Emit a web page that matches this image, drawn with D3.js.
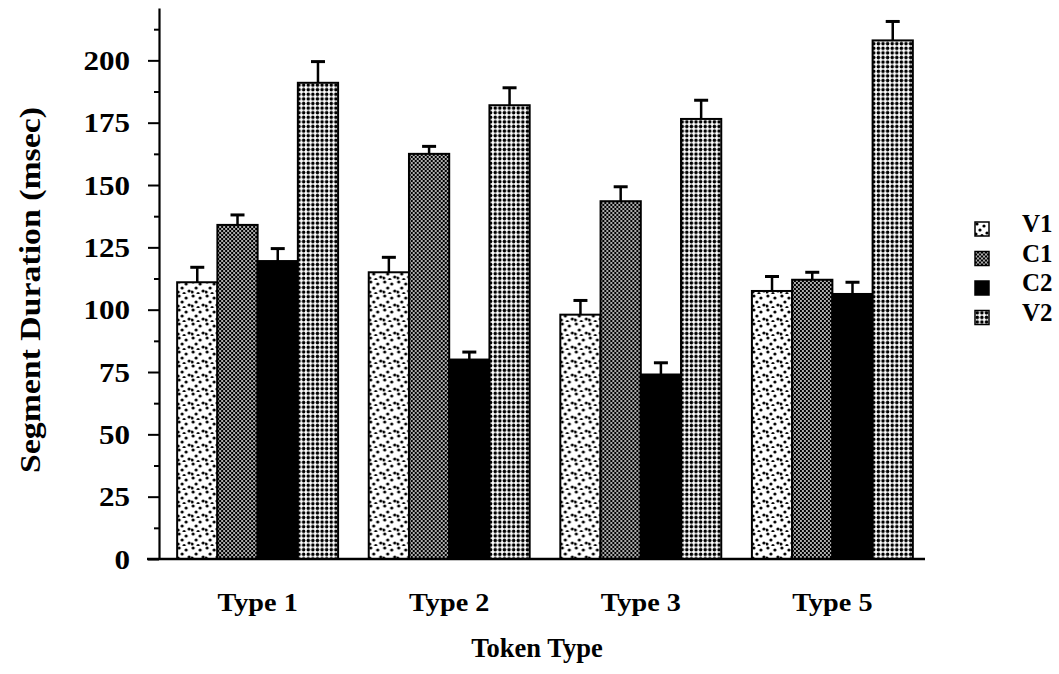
<!DOCTYPE html>
<html>
<head>
<meta charset="utf-8">
<script src="https://cdn.jsdelivr.net/npm/d3@7"></script>
<style>
  html, body { margin: 0; padding: 0; background: #fff; }
  svg { display: block; }
  text { font-family: "Liberation Serif", "DejaVu Serif", serif; font-weight: bold; fill: #000; }
</style>
</head>
<body>
<svg id="chart" width="1059" height="674"></svg>
<script>
// ---------- data ----------
const categories = ["Type 1", "Type 2", "Type 3", "Type 5"];
const seriesNames = ["V1", "C1", "C2", "V2"];
const V1 = [111, 115, 98, 107.5];
const C1 = [134, 162.5, 143.5, 112];
const C2 = [119.5, 80, 74, 106.3];
const V2 = [191, 182, 176.5, 208];
const V1err = [6, 6, 5.7, 5.8];
const C1err = [4, 3, 5.8, 3];
const C2err = [5, 3, 4.7, 4.7];
const V2err = [8.5, 7, 7.5, 7.6];
const yTicks = [0, 25, 50, 75, 100, 125, 150, 175, 200];
const yMinorTicks = [12.5, 37.5, 62.5, 87.5, 112.5, 137.5, 162.5, 187.5, 212.5];
const yTitle = "Segment Duration (msec)";
const xTitle = "Token Type";

const values = { V1, C1, C2, V2 };
const errors = { V1: V1err, C1: C1err, C2: C2err, V2: V2err };

const svg = d3.select("#chart");

// ---------- patterns ----------
const defs = svg.append("defs");
// V1: sparse dots
const p1 = defs.append("pattern").attr("id", "pV1").attr("patternUnits", "userSpaceOnUse")
  .attr("width", 14).attr("height", 14);
p1.append("rect").attr("width", 14).attr("height", 14).attr("fill", "#fff");
[[2,2],[9,4],[5,8],[12,11],[1,12],[7,13.5]].forEach(([cx,cy]) =>
  p1.append("circle").attr("cx", cx).attr("cy", cy).attr("r", 1.6).attr("fill", "#000"));
// C1: dense dark checker
const p2 = defs.append("pattern").attr("id", "pC1").attr("patternUnits", "userSpaceOnUse")
  .attr("width", 4).attr("height", 4);
p2.append("rect").attr("width", 4).attr("height", 4).attr("fill", "#000");
p2.append("circle").attr("cx", 1).attr("cy", 1).attr("r", 0.9).attr("fill", "#fff");
p2.append("circle").attr("cx", 3).attr("cy", 3).attr("r", 0.9).attr("fill", "#fff");
// V2: regular dot grid
const p4 = defs.append("pattern").attr("id", "pV2").attr("patternUnits", "userSpaceOnUse")
  .attr("width", 4.6).attr("height", 4.6);
p4.append("rect").attr("width", 4.6).attr("height", 4.6).attr("fill", "#fff");
p4.append("circle").attr("cx", 2.3).attr("cy", 2.3).attr("r", 1.75).attr("fill", "#000");

const fills = { V1: "url(#pV1)", C1: "url(#pC1)", C2: "#000", V2: "url(#pV2)" };

// ---------- scales ----------
const x0 = d3.scaleBand().domain(categories).range([158, 932]).paddingInner(0.16).paddingOuter(0.1);
const x1 = d3.scaleBand().domain(seriesNames).range([0, x0.bandwidth()]).padding(0);
const y = d3.scaleLinear().domain([0, 221]).range([559, 8]);

// ---------- bars ----------
const groups = svg.append("g").selectAll("g").data(categories).join("g")
  .attr("transform", d => `translate(${x0(d)},0)`);

const rowData = (c, i) => seriesNames.map(s => ({ s, v: values[s][i], e: errors[s][i] }));

groups.selectAll("rect").data(rowData)
  .join("rect")
  .attr("x", d => x1(d.s))
  .attr("y", d => y(d.v))
  .attr("width", x1.bandwidth())
  .attr("height", d => y(0) - y(d.v))
  .attr("fill", d => fills[d.s])
  .attr("stroke", "#000")
  .attr("stroke-width", 2);

// error bars
const eb = groups.selectAll("g.err").data(rowData)
  .join("g").attr("class", "err");
eb.append("line")
  .attr("x1", d => x1(d.s) + x1.bandwidth() / 2)
  .attr("x2", d => x1(d.s) + x1.bandwidth() / 2)
  .attr("y1", d => y(d.v))
  .attr("y2", d => y(d.v + d.e))
  .attr("stroke", "#000").attr("stroke-width", 2.5);
eb.append("line")
  .attr("x1", d => x1(d.s) + x1.bandwidth() / 2 - 7)
  .attr("x2", d => x1(d.s) + x1.bandwidth() / 2 + 7)
  .attr("y1", d => y(d.v + d.e))
  .attr("y2", d => y(d.v + d.e))
  .attr("stroke", "#000").attr("stroke-width", 3);

// ---------- y axis ----------
const yAxisG = svg.append("g").attr("transform", "translate(159,0)")
  .call(d3.axisLeft(y).tickValues(yTicks).tickSize(11).tickPadding(18).tickSizeOuter(0));
yAxisG.select(".domain").attr("stroke-width", 2.2);
yAxisG.selectAll(".tick line").attr("stroke-width", 2);
yAxisG.selectAll(".tick text")
  .attr("font-size", 27).attr("font-family", "Liberation Serif").attr("font-weight", "bold")
  .attr("dy", "0.34em")
  .attr("transform", "translate(-29,0) scale(1.15,1) translate(29,0)");
const yMinorG = svg.append("g").attr("transform", "translate(159,0)")
  .call(d3.axisLeft(y).tickValues(yMinorTicks).tickSize(5).tickFormat(""));
yMinorG.select(".domain").remove();
yMinorG.selectAll(".tick line").attr("stroke-width", 2);

// ---------- x axis ----------
const xAxisG = svg.append("g").attr("transform", `translate(0,${y(0)})`)
  .call(d3.axisBottom(x0).tickSize(0).tickPadding(34));
xAxisG.select(".domain").attr("d", "M147,0H925").attr("stroke-width", 2.5);
xAxisG.selectAll(".tick text")
  .attr("font-size", 25).attr("font-family", "Liberation Serif").attr("font-weight", "bold")
  .attr("transform", "scale(1.13,1)");

// ---------- titles ----------
const yt = svg.append("text")
  .attr("transform", "translate(40,290) rotate(-90)")
  .attr("text-anchor", "middle")
  .attr("font-size", 30)
  .attr("textLength", 366)
  .attr("lengthAdjust", "spacingAndGlyphs")
  .text(yTitle);
svg.append("text")
  .attr("x", 537).attr("y", 657)
  .attr("text-anchor", "middle")
  .attr("font-size", 26.5)
  .text(xTitle);

// ---------- legend ----------
const legend = svg.append("g").selectAll("g").data(seriesNames).join("g")
  .attr("transform", (d, i) => `translate(975,${222 + i * 29.5})`);
legend.append("rect")
  .attr("width", 14).attr("height", 14)
  .attr("fill", d => fills[d])
  .attr("stroke", "#000").attr("stroke-width", 1.5);
legend.append("text")
  .attr("x", 47).attr("y", 10)
  .attr("font-size", 25)
  .text(d => d);
</script>
</body>
</html>
